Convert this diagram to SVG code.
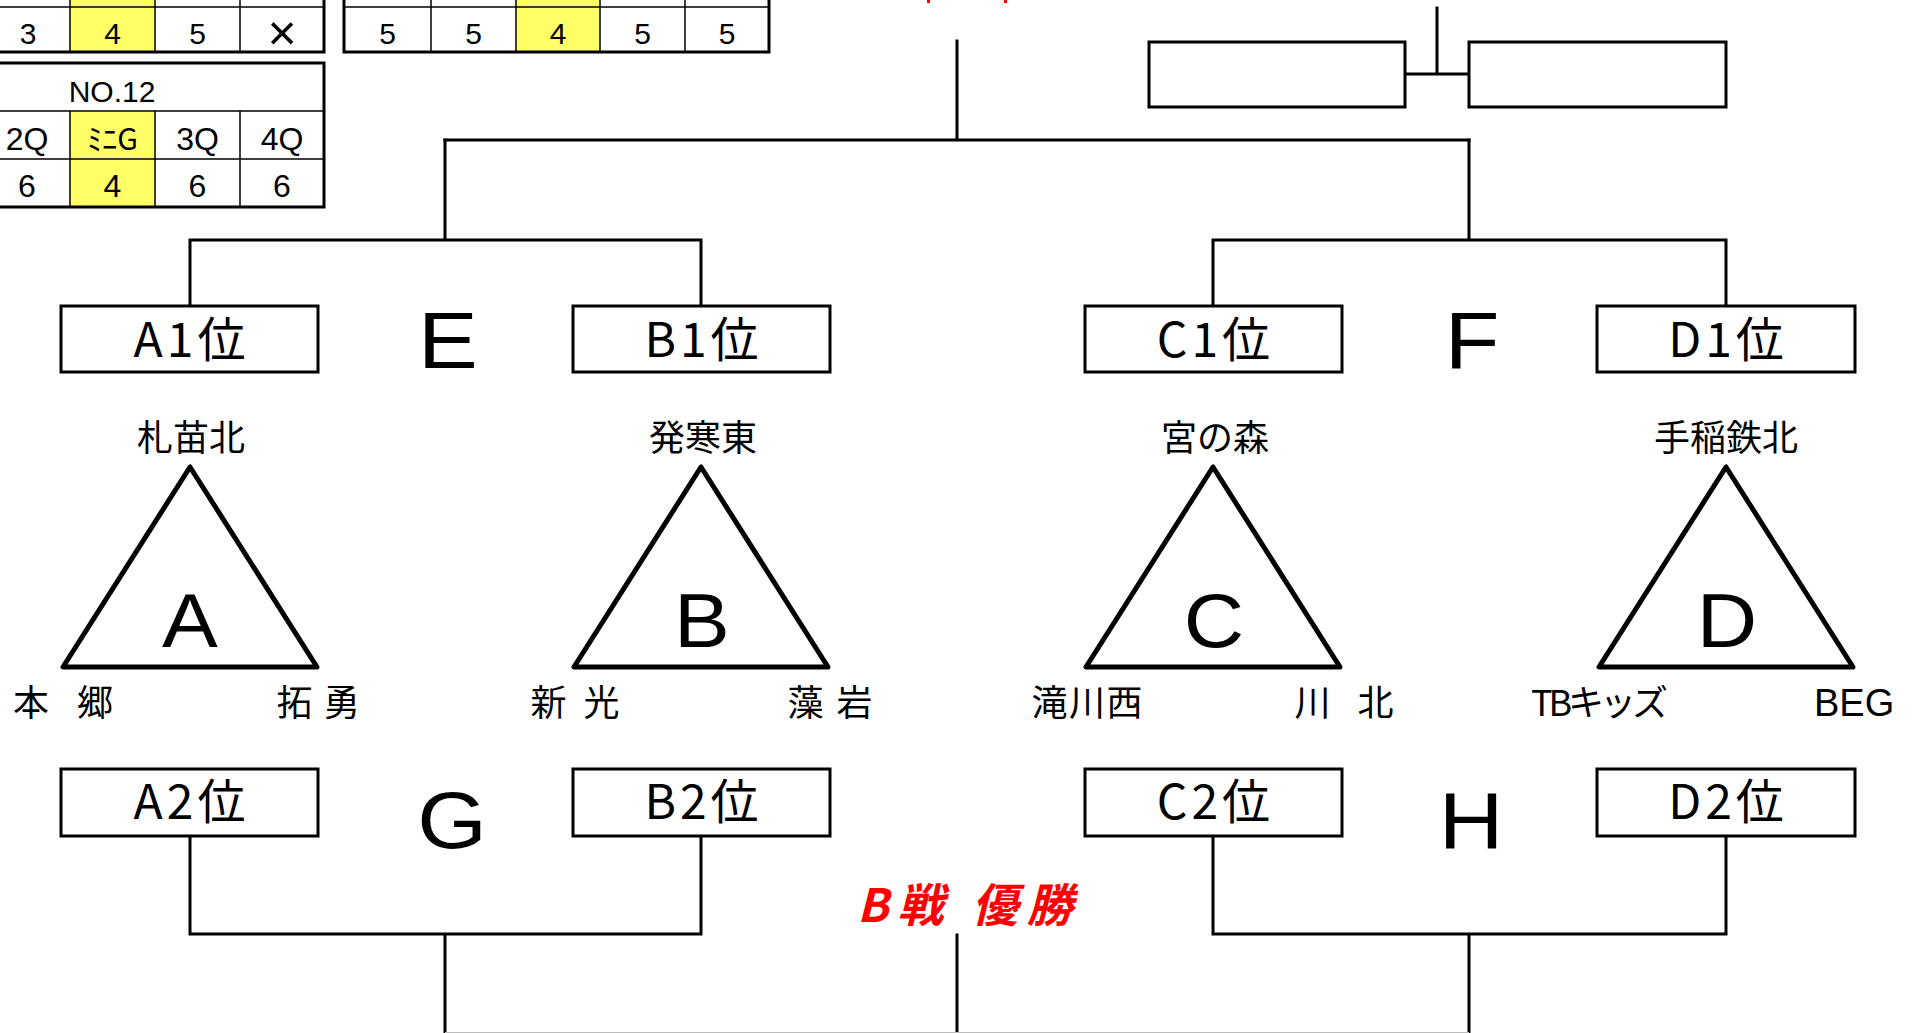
<svg xmlns="http://www.w3.org/2000/svg" width="1916" height="1033" viewBox="0 0 1916 1033">
<style>
.ln{stroke:#000;stroke-width:3;fill:none;stroke-linecap:square}
.thk{stroke:#000;stroke-width:3;fill:none}
.thn{stroke:#000;stroke-width:1.5;fill:none}
.box{fill:#fff;stroke:#000;stroke-width:3}
.yel{fill:#ffff66}
.lbl{font-family:"Noto Sans CJK JP","Liberation Sans",sans-serif;font-size:48px;text-anchor:middle;letter-spacing:4px;fill:#000}
.big{font-family:"Liberation Sans",Arial,sans-serif;font-size:80px;text-anchor:middle;fill:#000}
.tl{font-family:"Liberation Sans",Arial,sans-serif;font-size:76px;text-anchor:middle;fill:#000}
.tri{fill:#fff;stroke:#000;stroke-width:5;stroke-linejoin:round}
.nm{font-family:"Noto Sans CJK JP",sans-serif;font-size:36px;fill:#000}
.nmc{font-family:"Noto Sans CJK JP",sans-serif;font-size:36px;fill:#000;text-anchor:middle}
.tb{font-family:"Liberation Sans","Noto Sans CJK JP",sans-serif;font-size:30px;text-anchor:middle;fill:#000}
.tb2{font-family:"Liberation Sans","Noto Sans CJK JP",sans-serif;font-size:32px;text-anchor:middle;fill:#000}
.red{fill:#ff0000;font-family:"Noto Sans CJK JP",sans-serif;font-size:46px;font-style:italic;font-weight:700}
</style>

<g id="score-table-1">
  <rect class="yel" x="70" y="0" width="85" height="52"/>
  <path class="thn" d="M0,7 H324 M70,0 V52 M155,0 V52 M240,0 V52"/>
  <path class="thk" d="M0,52 H324 M324,0 V53.5"/>
  <text class="tb" x="28" y="44">3</text>
  <text class="tb" x="112.5" y="44">4</text>
  <text class="tb" x="197.5" y="44">5</text>
  <text class="tb" x="282" y="50" style="font-size:50px;font-weight:300">×</text>
</g>

<g id="score-table-2">
  <rect class="yel" x="516" y="0" width="84" height="52"/>
  <path class="thn" d="M344,7 H769 M431,0 V52 M516,0 V52 M600,0 V52 M685,0 V52"/>
  <path class="thk" d="M344,0 V53.5 M769,0 V53.5 M344,52 H769"/>
  <text class="tb" x="387.5" y="44">5</text>
  <text class="tb" x="473.5" y="44">5</text>
  <text class="tb" x="558" y="44">4</text>
  <text class="tb" x="642.5" y="44">5</text>
  <text class="tb" x="727" y="44">5</text>
</g>

<g id="score-table-no12">
  <rect class="yel" x="70" y="111" width="85" height="96"/>
  <path class="thn" d="M0,111 H324 M0,159 H324 M70,111 V207 M155,111 V207 M240,111 V207"/>
  <path class="thk" d="M0,63 H325.5 M324,63 V208.5 M0,207 H325.5"/>
  <text class="tb" x="112" y="102">NO.12</text>
  <text class="tb2" x="27" y="150">2Q</text>
  <text class="tb2" x="112.5" y="150" style="font-family:'Noto Sans CJK JP',sans-serif;font-size:30px">ﾐﾆG</text>
  <text class="tb2" x="197.5" y="150">3Q</text>
  <text class="tb2" x="282" y="150">4Q</text>
  <text class="tb2" x="27" y="197">6</text>
  <text class="tb2" x="112.5" y="197">4</text>
  <text class="tb2" x="197.5" y="197">6</text>
  <text class="tb2" x="282" y="197">6</text>
</g>

<g id="red-top-fragment">
  <rect x="927" y="0" width="3" height="3" fill="#ff0000"/>
  <rect x="1004" y="0" width="3" height="3" fill="#ff0000"/>
</g>

<g id="connectors">
  <path class="ln" d="M957,41 V140 M445,140 H1469"/>
  <path class="ln" d="M445,140 V240 M190,240 H701 M190,240 V306 M701,240 V306"/>
  <path class="ln" d="M1469,140 V240 M1213,240 H1726 M1213,240 V306 M1726,240 V306"/>
  <path class="ln" d="M190,836 V934 H701 V836 M445,934 V1033"/>
  <path class="ln" d="M1213,836 V934 H1726 V836 M1469,934 V1033"/>
  <path class="ln" d="M957,935 V1033"/>
  <path d="M445,1032.5 H1469" stroke="#bbbbbb" stroke-width="1" fill="none"/>
  <path class="ln" d="M1405,74 H1469 M1437,8 V74"/>
</g>

<g id="final-box-1"><rect class="box" x="1149" y="42" width="256" height="65"/></g>
<g id="final-box-2"><rect class="box" x="1469" y="42" width="257" height="65"/></g>

<g id="box-A1"><rect class="box" x="61" y="306" width="257" height="66"/><text class="lbl" x="191.5" y="357">A1位</text></g>
<g id="box-B1"><rect class="box" x="573" y="306" width="257" height="66"/><text class="lbl" x="703.5" y="357">B1位</text></g>
<g id="box-C1"><rect class="box" x="1085" y="306" width="257" height="66"/><text class="lbl" x="1215.5" y="357">C1位</text></g>
<g id="box-D1"><rect class="box" x="1597" y="306" width="258" height="66"/><text class="lbl" x="1728" y="357">D1位</text></g>

<g id="box-A2"><rect class="box" x="61" y="769" width="257" height="67"/><text class="lbl" x="191.5" y="819">A2位</text></g>
<g id="box-B2"><rect class="box" x="573" y="769" width="257" height="67"/><text class="lbl" x="703.5" y="819">B2位</text></g>
<g id="box-C2"><rect class="box" x="1085" y="769" width="257" height="67"/><text class="lbl" x="1215.5" y="819">C2位</text></g>
<g id="box-D2"><rect class="box" x="1597" y="769" width="258" height="67"/><text class="lbl" x="1728" y="819">D2位</text></g>

<g id="match-E"><text class="big" transform="translate(448,368) scale(1.12,1)">E</text></g>
<g id="match-F"><text class="big" transform="translate(1472,368) scale(1.12,1)">F</text></g>
<g id="match-G"><text class="big" transform="translate(452,848) scale(1.12,1)">G</text></g>
<g id="match-H"><text class="big" transform="translate(1471,848) scale(1.12,1)">H</text></g>

<g id="group-A">
  <polygon class="tri" points="190,467 63,667 317,667"/>
  <text class="tl" transform="translate(190,647) scale(1.1,1)">A</text>
  <text class="nmc" x="191" y="451">札苗北</text>
  <text class="nm" x="13" y="716" textLength="100" lengthAdjust="spacing">本　郷</text>
  <text class="nm" x="276.5" y="716" textLength="83" lengthAdjust="spacing" xml:space="preserve">拓 勇</text>
</g>
<g id="group-B">
  <polygon class="tri" points="701,467 574,667 828,667"/>
  <text class="tl" transform="translate(702,647) scale(1.1,1)">B</text>
  <text class="nmc" x="703" y="451">発寒東</text>
  <text class="nm" x="530.5" y="716" textLength="89" lengthAdjust="spacing" xml:space="preserve">新 光</text>
  <text class="nm" x="787.5" y="716" textLength="85" lengthAdjust="spacing" xml:space="preserve">藻 岩</text>
</g>
<g id="group-C">
  <polygon class="tri" points="1213,467 1086,667 1340,667"/>
  <text class="tl" transform="translate(1214,647) scale(1.1,1)">C</text>
  <text class="nmc" x="1215" y="451">宮の森</text>
  <text class="nm" x="1031.5" y="716" textLength="111" lengthAdjust="spacing">滝川西</text>
  <text class="nm" x="1294.5" y="716" textLength="99" lengthAdjust="spacing">川　北</text>
</g>
<g id="group-D">
  <polygon class="tri" points="1726,467 1599,667 1853,667"/>
  <text class="tl" transform="translate(1727,647) scale(1.1,1)">D</text>
  <text class="nmc" x="1726" y="451">手稲鉄北</text>
  <text class="nm" x="1531" y="716" textLength="137" lengthAdjust="spacing">TBキッズ</text>
  <text x="1814" y="716" style="font-family:'Liberation Sans',Arial,sans-serif;font-size:38px;fill:#000">BEG</text>
</g>

<g id="title-B">
  <text class="red" x="857" y="922" textLength="216" lengthAdjust="spacing" xml:space="preserve">B戦 優勝</text>
</g>
</svg>
